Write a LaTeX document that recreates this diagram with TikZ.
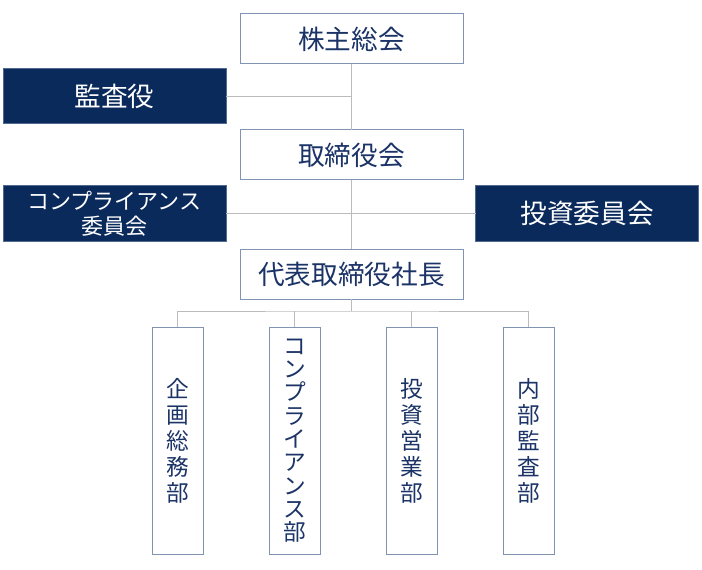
\documentclass[tikz,border=0pt]{standalone}
\usepackage{fontspec}
\newfontfamily\jpfont{Noto Sans CJK JP}
\usepackage{xcolor}
\usepackage{tikz}
\usetikzlibrary{positioning}

\definecolor{navy}{HTML}{0B2A5C}
\definecolor{inkblue}{HTML}{1B3366}
\definecolor{framegray}{HTML}{8094B2}
\definecolor{linegray}{HTML}{BBBBBB}

\begin{document}
\begin{tikzpicture}[
  x=0.75pt, y=-0.75pt,
  every node/.style={font=\jpfont, outer sep=0pt},
  orgbox/.style={draw=framegray, line width=0.75pt, fill=white, text=inkblue, minimum width=167.25pt, minimum height=37.5pt, inner sep=0pt, font=\jpfont\fontsize{20}{24}\selectfont},
  sidebox/.style={draw=framegray!60!navy, line width=0.75pt, fill=navy, text=white, minimum width=167.25pt, minimum height=41.25pt, inner sep=0pt, align=center, font=\jpfont\fontsize{20}{24}\selectfont},
  deptbox/.style={draw=framegray, line width=0.75pt, text=inkblue, minimum width=38.25pt, minimum height=170.25pt, inner sep=0pt, align=center, font=\jpfont\fontsize{17}{19.5}\selectfont},
  link/.style={draw=linegray, line width=0.75pt}
]
\useasboundingbox (0,0) rectangle (702,570);

\node[orgbox] (meeting) at (351.5,39) {株主総会};
\node[orgbox, below=49.5pt of meeting] (board) {取締役会};
\node[orgbox, below=51.75pt of board] (president) {代表取締役社長};

\node[sidebox] (auditor) at (114.5,96.5) {監査役};
\node[sidebox, font=\jpfont\fontsize{16.5}{18.5}\selectfont] (compcomm) at (114.5,213.5) {コンプライアンス\\委員会};
\node[sidebox] (invcomm) at (587,213.5) {投資委員会};

\node[deptbox] (planning) at (177.5,440.5) {企\\画\\総\\務\\部};
\node[deptbox, right=49.5pt of planning, font=\jpfont\fontsize{17}{17.5}\selectfont] (compdept) {コ\\ン\\プ\\ラ\\イ\\ア\\ン\\ス\\部};
\node[deptbox, right=49.5pt of compdept] (invdept) {投\\資\\営\\業\\部};
\node[deptbox, right=49.5pt of invdept] (internal) {内\\部\\監\\査\\部};

\coordinate (bus) at (351.5,311);

\draw[link] (meeting) -- (board);
\draw[link] (board) -- (president);
\draw[link] (auditor) -- (auditor -| meeting);
\draw[link] (compcomm) -- (invcomm);
\draw[link] (president) -- (bus);
\draw[link] (planning.north) |- (bus) -| (internal.north);
\draw[link] (compdept.north) -- (compdept.north |- bus);
\draw[link] (invdept.north) -- (invdept.north |- bus);
\end{tikzpicture}
\end{document}
